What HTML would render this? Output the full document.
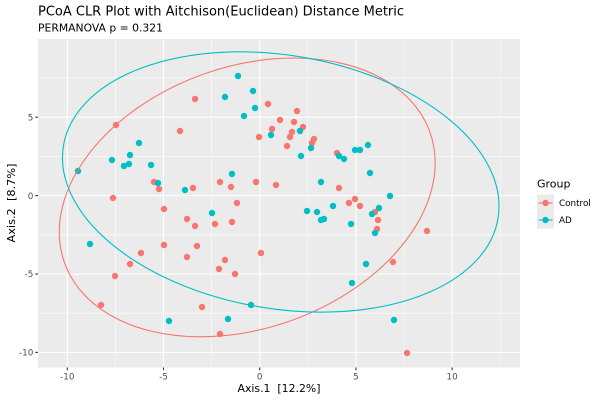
<!DOCTYPE html>
<html><head><meta charset="utf-8"><style>
html,body{margin:0;padding:0;background:#fff;width:600px;height:400px;overflow:hidden}
svg{display:block}
text{font-family:"DejaVu Sans","Liberation Sans",sans-serif}
</style></head><body>
<svg width="600" height="400" viewBox="0 0 600 400" xmlns="http://www.w3.org/2000/svg">
<rect width="600" height="400" fill="#fff"/>
<text x="38" y="15.7" font-size="13.7" fill="#000" textLength="366" lengthAdjust="spacingAndGlyphs">PCoA CLR Plot with Aitchison(Euclidean) Distance Metric</text>
<text x="38" y="31.7" font-size="10.6" fill="#000" textLength="125" lengthAdjust="spacingAndGlyphs">PERMANOVA p = 0.321</text>
<rect x="38" y="39" width="482" height="328.5" fill="#EBEBEB"/>
<g stroke="#fff" stroke-width="0.55">
<line x1="115.4" y1="39" x2="115.4" y2="367.5"/><line x1="211.6" y1="39" x2="211.6" y2="367.5"/>
<line x1="307.8" y1="39" x2="307.8" y2="367.5"/><line x1="404" y1="39" x2="404" y2="367.5"/>
<line x1="500.2" y1="39" x2="500.2" y2="367.5"/>
<line x1="38" y1="78" x2="520" y2="78"/><line x1="38" y1="156.4" x2="520" y2="156.4"/>
<line x1="38" y1="234.8" x2="520" y2="234.8"/><line x1="38" y1="313.2" x2="520" y2="313.2"/>
</g>
<g stroke="#fff" stroke-width="1.1">
<line x1="67.3" y1="39" x2="67.3" y2="367.5"/><line x1="163.5" y1="39" x2="163.5" y2="367.5"/>
<line x1="259.7" y1="39" x2="259.7" y2="367.5"/><line x1="355.9" y1="39" x2="355.9" y2="367.5"/>
<line x1="452.1" y1="39" x2="452.1" y2="367.5"/>
<line x1="38" y1="117.2" x2="520" y2="117.2"/><line x1="38" y1="195.6" x2="520" y2="195.6"/>
<line x1="38" y1="274" x2="520" y2="274"/><line x1="38" y1="352.4" x2="520" y2="352.4"/>
</g>
<g fill="#F8766D">
<circle cx="116" cy="125" r="3.2"/><circle cx="195" cy="99" r="3.2"/><circle cx="180" cy="131" r="3.2"/>
<circle cx="268" cy="104" r="3.2"/><circle cx="297" cy="111" r="3.2"/><circle cx="280" cy="120" r="3.2"/>
<circle cx="294" cy="122" r="3.2"/><circle cx="303" cy="127" r="3.2"/><circle cx="272" cy="129" r="3.2"/>
<circle cx="292" cy="132" r="3.2"/><circle cx="259" cy="137" r="3.2"/><circle cx="290" cy="137" r="3.2"/>
<circle cx="314" cy="139" r="3.2"/><circle cx="312" cy="143" r="3.2"/><circle cx="287" cy="146" r="3.2"/>
<circle cx="337" cy="153" r="3.2"/><circle cx="154" cy="182" r="3.2"/><circle cx="159" cy="189" r="3.2"/>
<circle cx="113" cy="198" r="3.2"/><circle cx="193" cy="188" r="3.2"/><circle cx="220" cy="182" r="3.2"/>
<circle cx="231" cy="187" r="3.2"/><circle cx="256" cy="182" r="3.2"/><circle cx="276" cy="185" r="3.2"/>
<circle cx="237" cy="203" r="3.2"/><circle cx="164" cy="209" r="3.2"/><circle cx="187" cy="219" r="3.2"/>
<circle cx="195" cy="226" r="3.2"/><circle cx="215" cy="224" r="3.2"/><circle cx="232" cy="222" r="3.2"/>
<circle cx="339" cy="188" r="3.2"/><circle cx="355" cy="199" r="3.2"/><circle cx="349" cy="203" r="3.2"/>
<circle cx="360" cy="206" r="3.2"/><circle cx="375" cy="212" r="3.2"/><circle cx="378" cy="220" r="3.2"/>
<circle cx="377" cy="229" r="3.2"/><circle cx="427" cy="231" r="3.2"/><circle cx="393" cy="262" r="3.2"/>
<circle cx="164" cy="245" r="3.2"/><circle cx="197" cy="246" r="3.2"/><circle cx="141" cy="253" r="3.2"/>
<circle cx="187" cy="257" r="3.2"/><circle cx="261" cy="253" r="3.2"/><circle cx="130" cy="264" r="3.2"/>
<circle cx="225" cy="260" r="3.2"/><circle cx="219" cy="269" r="3.2"/><circle cx="235" cy="274" r="3.2"/>
<circle cx="115" cy="276" r="3.2"/><circle cx="101" cy="305" r="3.2"/><circle cx="202" cy="307" r="3.2"/>
<circle cx="220" cy="334" r="3.2"/><circle cx="407" cy="353" r="3.2"/>
</g>
<g fill="#00BFC4">
<circle cx="78" cy="171" r="3.2"/><circle cx="112" cy="160" r="3.2"/><circle cx="124" cy="166" r="3.2"/>
<circle cx="129" cy="164" r="3.2"/><circle cx="130" cy="155" r="3.2"/><circle cx="139" cy="143" r="3.2"/>
<circle cx="151" cy="165" r="3.2"/><circle cx="158" cy="183" r="3.2"/><circle cx="185" cy="190" r="3.2"/>
<circle cx="232" cy="174" r="3.2"/><circle cx="225" cy="97" r="3.2"/><circle cx="238" cy="76" r="3.2"/>
<circle cx="253" cy="91" r="3.2"/><circle cx="255" cy="108" r="3.2"/><circle cx="244" cy="116" r="3.2"/>
<circle cx="271" cy="135" r="3.2"/><circle cx="300" cy="131" r="3.2"/><circle cx="311" cy="148" r="3.2"/>
<circle cx="301" cy="156" r="3.2"/><circle cx="339" cy="156" r="3.2"/><circle cx="344" cy="159" r="3.2"/>
<circle cx="355" cy="150" r="3.2"/><circle cx="360" cy="150" r="3.2"/><circle cx="368" cy="145" r="3.2"/>
<circle cx="370" cy="173" r="3.2"/><circle cx="321" cy="182" r="3.2"/><circle cx="390" cy="196" r="3.2"/>
<circle cx="307" cy="211" r="3.2"/><circle cx="317" cy="212" r="3.2"/><circle cx="333" cy="206" r="3.2"/>
<circle cx="321" cy="220" r="3.2"/><circle cx="324" cy="219" r="3.2"/><circle cx="351" cy="224" r="3.2"/>
<circle cx="372" cy="214" r="3.2"/><circle cx="379" cy="208" r="3.2"/><circle cx="375" cy="233" r="3.2"/>
<circle cx="366" cy="264" r="3.2"/><circle cx="352" cy="283" r="3.2"/><circle cx="394" cy="320" r="3.2"/>
<circle cx="212" cy="213" r="3.2"/><circle cx="90" cy="244" r="3.2"/><circle cx="251" cy="305" r="3.2"/>
<circle cx="169" cy="321" r="3.2"/><circle cx="228" cy="319" r="3.2"/>
</g>
<ellipse cx="247.2" cy="197.4" rx="194" ry="130.8" transform="rotate(-19.65 247.2 197.4)" fill="none" stroke="#F8766D" stroke-width="1.1"/>
<ellipse cx="280.75" cy="182" rx="220.3" ry="126.7" transform="rotate(9.53 280.75 182)" fill="none" stroke="#00BFC4" stroke-width="1.1"/>
<g stroke="#333" stroke-width="1.1">
<line x1="67.3" y1="367.5" x2="67.3" y2="370.2"/><line x1="163.5" y1="367.5" x2="163.5" y2="370.2"/>
<line x1="259.7" y1="367.5" x2="259.7" y2="370.2"/><line x1="355.9" y1="367.5" x2="355.9" y2="370.2"/>
<line x1="452.1" y1="367.5" x2="452.1" y2="370.2"/>
<line x1="35.3" y1="117.2" x2="38" y2="117.2"/><line x1="35.3" y1="195.6" x2="38" y2="195.6"/>
<line x1="35.3" y1="274" x2="38" y2="274"/><line x1="35.3" y1="352.4" x2="38" y2="352.4"/>
</g>
<g font-size="8.8" fill="#4D4D4D" text-anchor="middle">
<text x="67.3" y="379.5">-10</text><text x="163.5" y="379.5">-5</text><text x="259.7" y="379.5">0</text>
<text x="355.9" y="379.5">5</text><text x="452.1" y="379.5">10</text>
</g>
<g font-size="8.8" fill="#4D4D4D" text-anchor="end">
<text x="33.3" y="120.4">5</text><text x="33.3" y="198.8">0</text>
<text x="33.3" y="277.2">-5</text><text x="33.3" y="355.6">-10</text>
</g>
<text x="279" y="392" font-size="11" fill="#000" text-anchor="middle" xml:space="preserve" textLength="83" lengthAdjust="spacingAndGlyphs">Axis.1  [12.2%]</text>
<text transform="translate(15,203) rotate(-90)" x="0" y="0" font-size="11" fill="#000" text-anchor="middle" xml:space="preserve" textLength="79" lengthAdjust="spacingAndGlyphs">Axis.2  [8.7%]</text>
<text x="537" y="187.5" font-size="11" fill="#000">Group</text>
<rect x="537" y="194.5" width="17" height="34" fill="#EBEBEB"/>
<line x1="538.5" y1="203" x2="552.5" y2="203" stroke="#F8766D" stroke-width="1.1"/>
<circle cx="545.5" cy="203" r="3.2" fill="#F8766D"/>
<line x1="538.5" y1="220" x2="552.5" y2="220" stroke="#00BFC4" stroke-width="1.1"/>
<circle cx="545.5" cy="220" r="3.2" fill="#00BFC4"/>
<text x="559" y="206.2" font-size="8.8" fill="#000">Control</text>
<text x="559" y="223.2" font-size="8.8" fill="#000">AD</text>
</svg>
</body></html>
